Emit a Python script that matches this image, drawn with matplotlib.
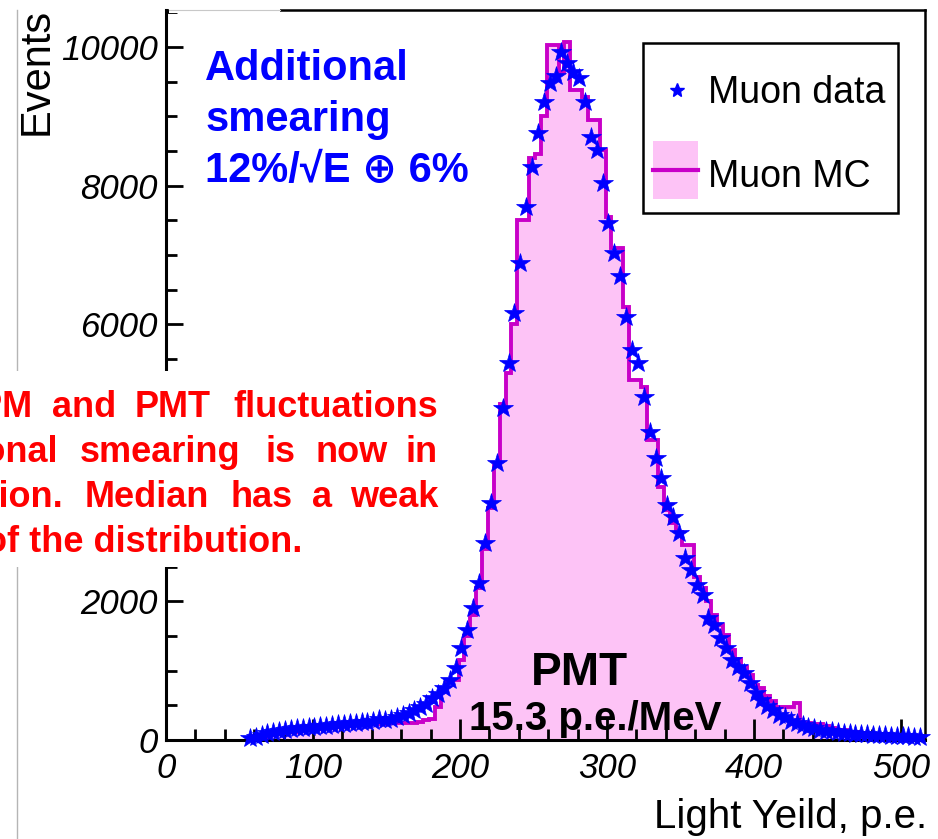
import numpy as np
import matplotlib
matplotlib.use("Agg")
import matplotlib.pyplot as plt
from matplotlib.patches import Rectangle
from matplotlib.lines import Line2D
from matplotlib.ticker import MultipleLocator, FixedLocator

plt.rcParams['font.family'] = ['Liberation Sans', 'DejaVu Sans']

# ---------------- data ----------------
first_edge = 55      # p.e.
bin_width = 4        # p.e.

data_counts = [30, 50, 75, 100, 115, 130, 145, 158, 168, 175,
               182, 188, 195, 205, 216, 226, 236, 245, 250, 255,
               262, 280, 300, 295, 300, 330, 360, 390, 433, 476,
               520, 600, 660, 750, 866, 1039, 1328, 1587, 1900, 2270,
               2843, 3420, 3997, 4790, 5440, 6162, 6883, 7691, 8268, 8759,
               9206, 9480, 9580, 9928, 9769, 9639, 9553, 9206, 8701, 8514,
               8038, 7460, 7027, 6695, 6104, 5628, 5440, 4949, 4444, 4069,
               3781, 3391, 3218, 2987, 2622, 2453, 2237, 2092, 1760, 1659,
               1472, 1328, 1154, 1050, 967, 823, 678, 577, 490, 433,
               360, 332, 280, 245, 215, 188, 173, 150, 135, 125,
               115, 105, 95, 90, 85, 80, 75, 70, 65, 62,
               58, 55, 52, 48, 45]

mc_counts = [10, 20, 35, 50, 65, 80, 95, 110, 120, 130,
             140, 150, 160, 170, 180, 190, 200, 205, 210, 215,
             220, 225, 230, 235, 240, 245, 245, 250, 250, 260,
             290, 300, 476, 720, 866, 866, 1150, 1500, 1800, 2200,
             2750, 3350, 3950, 4850, 5300, 6000, 7500, 7500, 8400, 8450,
             9000, 10030, 10030, 9640, 10070, 9380, 9380, 9280, 8950, 8950,
             8514, 7551, 7095, 7095, 6253, 5195, 5195, 5100, 4329, 4329,
             3655, 3320, 3130, 3000, 2814, 2814, 2356, 2200, 2000, 1800,
             1659, 1515, 1300, 1169, 1050, 938, 800, 750, 635, 560,
             480, 476, 476, 534, 250, 245, 231, 231, 200, 180,
             150, 140, 120, 110, 100, 95, 90, 85, 80, 75,
             70, 65, 60, 55, 50]

x_tick_values = [0, 100, 200, 300, 400, 500]
y_tick_values = [0, 2000, 4000, 6000, 8000, 10000]
y_hidden_tick = 4000   # covered by the slide's text box in the reference

data_label = "Muon data"
mc_label = "Muon MC"

# ---------------- figure ----------------
W, H = 938, 839
fig = plt.figure(figsize=(W / 100, H / 100), dpi=100)


def fx(px):
    return px / W


def fy(py):
    return 1 - py / H


ax = fig.add_axes([fx(166), fy(740), (925 - 166) / W, (740 - 10) / H])

n = len(data_counts)
edges = first_edge + bin_width * np.arange(n + 1)
centers = 0.5 * (edges[:-1] + edges[1:])

pink = '#fdc3f6'
magenta = '#c800c8'
blue = '#0000ff'

ax.stairs(mc_counts, edges, fill=True, color=pink, zorder=1)
ax.stairs(mc_counts, edges, color=magenta, lw=2.8, zorder=2)
ax.plot(centers, data_counts, ls='none', marker='*', ms=15, color=blue,
        mec=blue, mew=0.5, zorder=3, clip_on=False)

ax.set_xlim(0, 516.3)
ax.set_ylim(0, 10534)

ax.xaxis.set_major_locator(FixedLocator(x_tick_values))
ax.xaxis.set_minor_locator(MultipleLocator(20))
ax.yaxis.set_major_locator(FixedLocator(y_tick_values))
ax.yaxis.set_minor_locator(MultipleLocator(500))
ax.set_yticklabels(["" if v == y_hidden_tick else str(v) for v in y_tick_values])

ax.tick_params(axis='both', which='both', direction='in', top=False, right=False, width=2)
ax.tick_params(axis='x', which='major', length=15, pad=9)
ax.tick_params(axis='x', which='minor', length=8)
ax.tick_params(axis='y', which='major', length=12.5, pad=6)
ax.tick_params(axis='y', which='minor', length=8)

for lab in ax.get_xticklabels() + ax.get_yticklabels():
    lab.set_fontsize(25)
    lab.set_fontstyle('italic')

for s in ['left', 'bottom']:
    ax.spines[s].set_linewidth(2.2)
for s in ['top', 'right']:
    ax.spines[s].set_linewidth(1.8)

# axis titles
fig.text(fx(37), fy(8), "Events", rotation=90, ha='center', va='top', fontsize=30)
fig.text(fx(927), fy(828), "Light Yeild, p.e.", ha='right', va='baseline', fontsize=29)

# ---------------- legend (ROOT style box) ----------------
fig.add_artist(Rectangle((fx(643), fy(213)), fx(898) - fx(643), fy(43) - fy(213),
                         transform=fig.transFigure, facecolor='white',
                         edgecolor='black', lw=1.8, zorder=5))
fig.add_artist(Line2D([fx(677)], [fy(90)], transform=fig.transFigure, ls='none',
                      marker='*', ms=10, color=blue, zorder=6))
fig.add_artist(Rectangle((fx(653), fy(199)), fx(698) - fx(653), fy(141) - fy(199),
                         transform=fig.transFigure, facecolor=pink,
                         edgecolor='none', zorder=6))
fig.add_artist(Line2D([fx(653), fx(698)], [fy(170), fy(170)], transform=fig.transFigure,
                      color=magenta, lw=3, zorder=7))
fig.text(fx(708), fy(103), data_label, ha='left', va='baseline', fontsize=27, zorder=7)
fig.text(fx(708), fy(187), mc_label, ha='left', va='baseline', fontsize=27, zorder=7)

# ---------------- slide annotations ----------------
fig.add_artist(Line2D([fx(17), fx(17)], [fy(10), fy(839)], transform=fig.transFigure,
                      color='#b5b5b5', lw=1, zorder=1))
fig.add_artist(Rectangle((fx(169), fy(13)), fx(280) - fx(169), fy(0) - fy(13),
                         transform=fig.transFigure, facecolor='white',
                         edgecolor='none', zorder=4))
fig.add_artist(Line2D([fx(169), fx(280)], [fy(10), fy(10)], transform=fig.transFigure,
                      color='#c8c8c8', lw=0.8, zorder=4))

blue_lines = ["Additional", "smearing", "12%/\u221aE \u2295 6%"]
blue_baselines = [80, 131, 182]
for txt, yb in zip(blue_lines, blue_baselines):
    fig.text(fx(205), fy(yb), txt, ha='left', va='baseline', fontsize=30,
             fontweight='bold', color=blue, zorder=8)

fig.text(fx(579), fy(685), "PMT", ha='center', va='baseline', fontsize=33,
         fontweight='bold', color='black', zorder=8)
fig.text(fx(595), fy(730), "15.3 p.e./MeV", ha='center', va='baseline', fontsize=29,
         fontweight='bold', color='black', zorder=8)

# red justified text in a white box (cut on the left, as on the slide)
fig.add_artist(Rectangle((fx(0), fy(567)), fx(448), fy(371) - fy(567),
                         transform=fig.transFigure, facecolor='white',
                         edgecolor='none', zorder=4))
red_words = [
    (417, [("SiPM", 33, 'right'), ("and", 52, 'left'), ("PMT", 135, 'left'),
           ("fluctuations", 438, 'right')]),
    (462, [("additional", 58, 'right'), ("smearing", 80, 'left'), ("is", 265, 'left'),
           ("now", 315, 'left'), ("in", 438, 'right')]),
    (507, [("description.", 63, 'right'), ("Median", 85, 'left'), ("has", 230, 'left'),
           ("a", 312, 'left'), ("weak", 438, 'right')]),
    (552, [("of the distribution.", 302, 'right')]),
]
for yb, words in red_words:
    for w, xp, ha in words:
        fig.text(fx(xp), fy(yb), w, ha=ha, va='baseline', fontsize=26,
                 fontweight='bold', color='#ff0000', zorder=8)

fig.savefig("out.png", dpi=100)
